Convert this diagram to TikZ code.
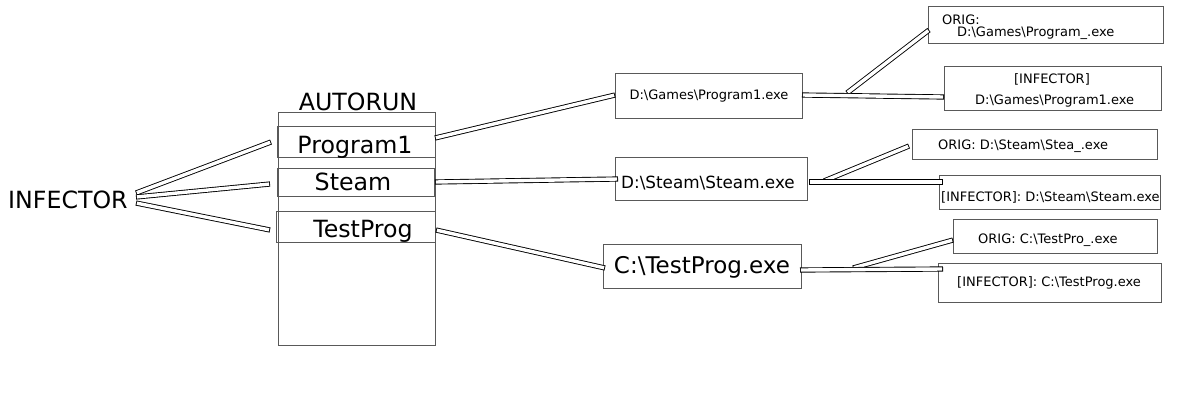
\documentclass[tikz,border=0pt]{standalone}
\usepackage{fontspec}
\setmainfont{DejaVu Sans}
\newcommand{\bs}{\textbackslash}
\begin{document}
\begin{tikzpicture}[x=1pt,y=-1pt,
  box/.style={draw=black!65, line width=1.1pt, inner sep=0pt, anchor=north west},
  strip/.style={line width=5.2pt, draw=black, postaction={draw=white, line width=3.4pt, shorten <=0.9pt, shorten >=0.9pt}},
  txt/.style={inner sep=0pt},
  big/.style={txt, font=\fontsize{23.7}{26}\selectfont},
  small/.style={txt, font=\fontsize{13}{15}\selectfont}]
\useasboundingbox (0,0) rectangle (1196,400);

% left column
\node[big, anchor=base west] (inf) at (8,208) {INFECTOR};
\node[big, anchor=base] (autolbl) at (358,110) {AUTORUN};
\node[box, minimum width=157pt, minimum height=233pt] (auto) at (278,112) {};
\node[box, minimum width=158pt, minimum height=31pt] (bp1) at (277,126) {};
\node[box, minimum width=157pt, minimum height=28pt] (bst) at (277,168) {};
\node[box, minimum width=159pt, minimum height=31pt] (btp) at (276,211) {};
\node[big, anchor=base] (tp1) at (355,153) {Program1};
\node[big, anchor=base] (tst) at (353,190) {Steam};
\node[big, anchor=base] (ttp) at (363,237) {TestProg};

% middle column
\node[box, minimum width=187pt, minimum height=45pt] (mg) at (615,73) {};
\node[box, minimum width=192pt, minimum height=43pt] (ms) at (615,157) {};
\node[box, minimum width=198pt, minimum height=44pt] (mt) at (603,244) {};
\node[small, anchor=base] (tmg) at (709,99) {D:\bs Games\bs Program1.exe};
\node[txt, anchor=base, font=\fontsize{16.8}{19}\selectfont] (tms) at (708,188) {D:\bs Steam\bs Steam.exe};
\node[txt, anchor=base, font=\fontsize{23}{26}\selectfont] (tmt) at (702,273) {C:\bs TestProg.exe};

% right column
\node[box, minimum width=235pt, minimum height=37pt] (og) at (928,6) {};
\node[box, minimum width=217pt, minimum height=44pt] (ig) at (944,66) {};
\node[box, minimum width=245pt, minimum height=30pt] (os) at (912,129) {};
\node[box, minimum width=221pt, minimum height=34pt] (is) at (939,175) {};
\node[box, minimum width=204pt, minimum height=34pt] (ot) at (953,219) {};
\node[box, minimum width=223pt, minimum height=39pt] (it) at (938,263) {};

\node[small, anchor=base west] (tog1) at (942,24) {ORIG:};
\node[small, anchor=base west] (tog2) at (957,36) {D:\bs Games\bs Program\_.exe};
\node[small, anchor=base] (tig1) at (1052,83) {[INFECTOR]};
\node[small, anchor=base west] (tig2) at (975,104) {D:\bs Games\bs Program1.exe};
\node[small, anchor=base west] (tos) at (938,149) {ORIG: D:\bs Steam\bs Stea\_.exe};
\node[small, anchor=base west] (tis) at (941,201) {[INFECTOR]: D:\bs Steam\bs Steam.exe};
\node[small, anchor=base west] (tot) at (978,243) {ORIG: C:\bs TestPro\_.exe};
\node[small, anchor=base west] (tit) at (957,286) {[INFECTOR]: C:\bs TestProg.exe};

% connector end points
\coordinate (a1) at (136,193);
\coordinate (a2) at (136,197);
\coordinate (a3) at (136,203);
\coordinate (e1) at (271,142);
\coordinate (e2) at (270,184);
\coordinate (e3) at (270,230);
\coordinate (p1) at (435,138);
\coordinate (p2) at (435,182);
\coordinate (p3) at (436,230);
\coordinate (m1) at (615,95);
\coordinate (m2) at (618,179);
\coordinate (m3) at (605,268);
\coordinate (g0) at (802,95);
\coordinate (g1) at (944,97);
\coordinate (gb) at (847,93);
\coordinate (g2) at (929,30);
\coordinate (s0) at (809,182);
\coordinate (s1) at (943,182);
\coordinate (sb) at (824,181);
\coordinate (s2) at (909,146);
\coordinate (t0) at (800,270);
\coordinate (t1) at (943,269);
\coordinate (tb) at (853,268);
\coordinate (t2) at (953,240);

% connectors
\draw[strip] (a1) -- (e1);
\draw[strip] (a2) -- (e2);
\draw[strip] (a3) -- (e3);
\draw[strip] (p1) -- (m1);
\draw[strip] (p2) -- (m2);
\draw[strip] (p3) -- (m3);
\draw[strip] (gb) -- (g2);
\draw[strip] (g0) -- (g1);
\draw[strip] (sb) -- (s2);
\draw[strip] (s0) -- (s1);
\draw[strip] (tb) -- (t2);
\draw[strip] (t0) -- (t1);
\end{tikzpicture}
\end{document}
